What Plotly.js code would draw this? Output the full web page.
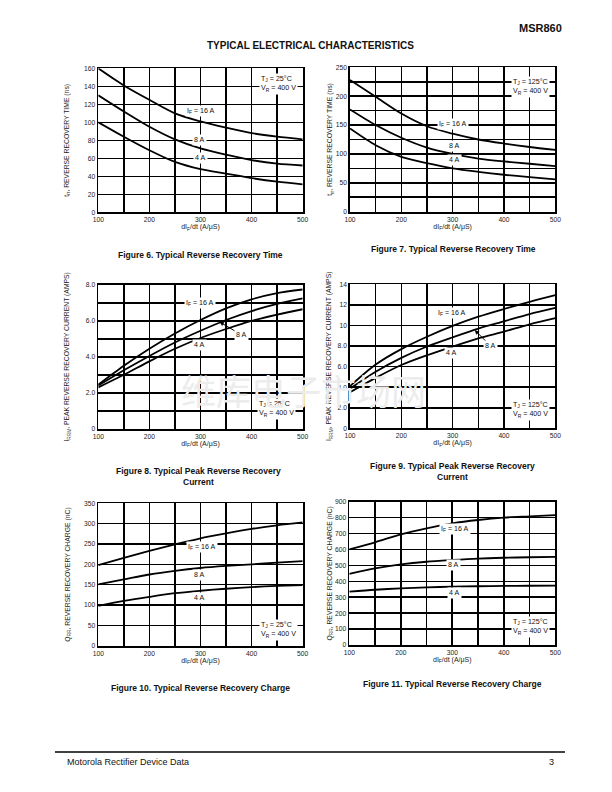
<!DOCTYPE html>
<html>
<head>
<meta charset="utf-8">
<script src="https://cdn.plot.ly/plotly-3.0.1.min.js"></script>
<style>html,body{margin:0;padding:0;background:#fff;}#chart{width:612px;height:792px;}</style>
</head>
<body>
<div id="chart"></div>
<script>
// ---- Data ----
const dIdt = [100, 150, 200, 250, 300, 350, 400, 450, 500];
const seriesNames = ["16 A", "8 A", "4 A"];

// Figure 6: trr at TJ = 25°C (ns)
const trr25_16A = [160, 141, 125, 110, 101, 94, 88, 84, 81];
const trr25_8A  = [130, 112, 95, 81, 71, 64, 58, 54, 52];
const trr25_4A  = [100, 84, 69, 56, 48, 43, 38, 34, 31];
// Figure 7: trr at TJ = 125°C (ns)
const trr125_16A = [228, 199, 170, 148, 135, 125, 118, 112, 107];
const trr125_8A  = [177, 150, 128, 111, 100, 92, 87, 83, 79];
const trr125_4A  = [144, 115, 95, 84, 75, 69, 64, 60, 56];
// Figure 8: IRRM at TJ = 25°C (A)
const irrm25_16A = [2.45, 3.5, 4.45, 5.3, 6.05, 6.7, 7.2, 7.55, 7.75];
const irrm25_8A  = [2.4, 3.25, 4.05, 4.8, 5.45, 6.05, 6.55, 6.95, 7.25];
const irrm25_4A  = [2.3, 3.0, 3.75, 4.45, 5.05, 5.55, 6.0, 6.35, 6.65];
// Figure 9: IRRM at TJ = 125°C (A)
const irrm125_16A = [4.1, 6.2, 7.7, 8.9, 9.95, 10.85, 11.6, 12.3, 12.95];
const irrm125_8A  = [3.85, 5.5, 6.85, 7.95, 8.85, 9.7, 10.4, 11.1, 11.7];
const irrm125_4A  = [3.5, 4.9, 6.15, 7.1, 7.95, 8.75, 9.4, 10.1, 10.7];
// Figure 10: QRR at TJ = 25°C (nC)
const qrr25_16A = [198, 216, 233, 249, 264, 276, 287, 296, 303];
const qrr25_8A  = [151, 163, 175, 184, 191, 196, 200, 204, 208];
const qrr25_4A  = [98, 110, 120, 129, 135, 140, 144, 147, 149];
// Figure 11: QRR at TJ = 125°C (nC)
const qrr125_16A = [600, 645, 695, 733, 764, 785, 800, 808, 816];
const qrr125_8A  = [446, 481, 506, 523, 534, 543, 548, 551, 554];
const qrr125_4A  = [335, 347, 356, 362, 366, 369, 371, 372, 373];

// Tick labels
const xTickVals = [100, 200, 300, 400, 500];
const xTickText = ["100", "200", "300", "400", "500"];
const y6TickVals = [0, 20, 40, 60, 80, 100, 120, 140, 160];
const y6TickText = ["0", "20", "40", "60", "80", "100", "120", "140", "160"];
const y7TickVals = [0, 50, 100, 150, 200, 250];
const y7TickText = ["0", "50", "100", "150", "200", "250"];
const y8TickVals = [0, 2, 4, 6, 8];
const y8TickText = ["0", "2.0", "4.0", "6.0", "8.0"];
const y9TickVals = [0, 2, 4, 6, 8, 10, 12, 14];
const y9TickText = ["0", "2.0", "4.0", "6.0", "8.0", "10", "12", "14"];
const y10TickVals = [0, 50, 100, 150, 200, 250, 300, 350];
const y10TickText = ["0", "50", "100", "150", "200", "250", "300", "350"];
const y11TickVals = [0, 100, 200, 300, 400, 500, 600, 700, 800, 900];
const y11TickText = ["0", "100", "200", "300", "400", "500", "600", "700", "800", "900"];

// ---- Layout helpers ----
const W = 612, H = 792;
const px = p => p / W;
const py = p => 1 - p / H;
const FONT = "Liberation Sans, Arial, sans-serif";
const LBL = 7.1;

const panels = [
  {ys: [trr25_16A, trr25_8A, trr25_4A], box: [98.3, 302.7, 68.3, 212.3], yr: [0, 160], ytv: y6TickVals, ytt: y6TickText, ydt: 20, ystand: 14,
   ytitle: "t<sub>rr</sub>, REVERSE RECOVERY TIME (ns)", tj: "25°C", tjpos: [452, 143],
   labels: [[300, 112, "I<sub>F</sub> = 16 A"], [298, 80, "8 A"], [300, 60, "4 A"]]},
  {ys: [trr125_16A, trr125_8A, trr125_4A], box: [350, 555.3, 67.3, 211.7], yr: [0, 250], ytv: y7TickVals, ytt: y7TickText, ydt: 25, ystand: 2,
   ytitle: "t<sub>rr</sub>, REVERSE RECOVERY TIME (ns)", tj: "125°C", tjpos: [451, 216],
   labels: [[301, 152, "I<sub>F</sub> = 16 A"], [303, 114, "8 A"], [303, 89, "4 A"]]},
  {ys: [irrm25_16A, irrm25_8A, irrm25_4A], box: [98.3, 302.7, 285, 428.7], yr: [0, 8], ytv: y8TickVals, ytt: y8TickText, ydt: 1, ystand: 15,
   ytitle: "I<sub>RRM</sub>, PEAK REVERSE RECOVERY CURRENT (AMPS)", tj: "25°C", tjpos: [449, 1.1],
   labels: [[299, 7.0, "I<sub>F</sub> = 16 A"], [299, 4.66, "4 A"]], arrow: [337, 5.95, 22, 13]},
  {ys: [irrm125_16A, irrm125_8A, irrm125_4A], box: [350, 555.3, 284.3, 428.3], yr: [0, 14], ytv: y9TickVals, ytt: y9TickText, ydt: 2, ystand: 5,
   ytitle: "I<sub>RRM</sub>, PEAK REVERSE RECOVERY CURRENT (AMPS)", tj: "125°C", tjpos: [451, 1.75],
   labels: [[298, 11.2, "I<sub>F</sub> = 16 A"], [298, 7.36, "4 A"]], arrow: [343, 9.55, 16, 16]},
  {ys: [qrr25_16A, qrr25_8A, qrr25_4A], box: [98.3, 302.7, 503.3, 645.7], yr: [0, 350], ytv: y10TickVals, ytt: y10TickText, ydt: 50, ystand: 13,
   ytitle: "Q<sub>RR</sub>, REVERSE RECOVERY CHARGE (nC)", tj: "25°C", tjpos: [452, 38],
   labels: [[302, 243, "I<sub>F</sub> = 16 A"], [299, 175, "8 A"], [299, 118, "4 A"]]},
  {ys: [qrr125_16A, qrr125_8A, qrr125_4A], box: [349.3, 555.3, 501.7, 645], yr: [0, 900], ytv: y11TickVals, ytt: y11TickText, ydt: 100, ystand: 2,
   ytitle: "Q<sub>RR</sub>, REVERSE RECOVERY CHARGE (nC)", tj: "125°C", tjpos: [451, 115],
   labels: [[305, 726, "I<sub>F</sub> = 16 A"], [303, 502, "8 A"], [305, 324, "4 A"]]}
];

const data = [];
const layout = {
  width: W, height: H,
  margin: {l: 0, r: 0, t: 0, b: 0},
  paper_bgcolor: "#fff", plot_bgcolor: "#fff",
  showlegend: false,
  font: {family: FONT, size: 6.5, color: "#111"},
  annotations: [], shapes: []
};

panels.forEach((p, i) => {
  const n = i + 1;
  const xa = "x" + (n === 1 ? "" : n), ya = "y" + (n === 1 ? "" : n);
  const xk = "xaxis" + (n === 1 ? "" : n), yk = "yaxis" + (n === 1 ? "" : n);
  p.ys.forEach((ys, k) => {
    data.push({x: dIdt, y: ys, xaxis: xa, yaxis: ya, type: "scatter", mode: "lines",
      name: seriesNames[k], line: {color: "#000", width: 1.8, shape: "spline", smoothing: 0.8},
      hoverinfo: "skip"});
  });
  const common = {
    showline: true, linecolor: "#000", linewidth: 1.8, mirror: true,
    showgrid: true, gridcolor: "#000", gridwidth: 1.6, zeroline: false,
    ticks: "", tickfont: {family: FONT, size: 6.7, color: "#222"}, fixedrange: true
  };
  layout[xk] = Object.assign({}, common, {
    domain: [px(p.box[0]), px(p.box[1])], anchor: ya, range: [100, 500],
    tickmode: "array", tickvals: xTickVals, ticktext: xTickText,
    minor: {dtick: 50, tick0: 0, showgrid: true, gridcolor: "#000", gridwidth: 1.6, ticks: ""},
    title: {text: "dI<sub>F</sub>/dt (A/μS)", font: {family: FONT, size: 7, color: "#222"}, standoff: 1}
  });
  layout[yk] = Object.assign({}, common, {
    domain: [py(p.box[3]), py(p.box[2])], anchor: xa, range: p.yr,
    tickmode: "array", tickvals: p.ytv, ticktext: p.ytt,
    minor: {dtick: p.ydt, tick0: 0, showgrid: true, gridcolor: "#000", gridwidth: 1.6, ticks: ""},
    title: {text: p.ytitle, font: {family: FONT, size: 6.8, color: "#222"}, standoff: p.ystand}
  });
  p.labels.forEach(l => {
    layout.annotations.push({xref: xa, yref: ya, x: l[0], y: l[1], text: l[2], showarrow: false,
      xanchor: "center", yanchor: "middle",
      bgcolor: "#fff", borderpad: 1, font: {family: FONT, size: LBL, color: "#111"}});
  });
  if (p.arrow) {
    layout.annotations.push({xref: xa, yref: ya, x: p.arrow[0], y: p.arrow[1], text: "8 A",
      showarrow: true, ax: p.arrow[2], ay: p.arrow[3], arrowhead: 2, arrowsize: 0.9, arrowwidth: 1,
      arrowcolor: "#000", bgcolor: "#fff", borderpad: 1, font: {family: FONT, size: LBL, color: "#111"}});
  }
  layout.annotations.push({xref: xa, yref: ya, x: p.tjpos[0], y: p.tjpos[1],
    text: "T<sub>J</sub> = " + p.tj + "<br>V<sub>R</sub> = 400 V", showarrow: false, align: "left",
    xanchor: "center", yanchor: "middle",
    bgcolor: "#fff", borderpad: 1, font: {family: FONT, size: LBL, color: "#111"}});
});

// Captions and page text
const captions = [
  [200, 255, "Figure 6. Typical Reverse Recovery Time"],
  [453, 249, "Figure 7. Typical Reverse Recovery Time"],
  [198, 476.7, "Figure 8. Typical Peak Reverse Recovery<br>Current"],
  [452, 471.3, "Figure 9. Typical Peak Reverse Recovery<br>Current"],
  [200, 688, "Figure 10. Typical Reverse Recovery Charge"],
  [452, 684, "Figure 11. Typical Reverse Recovery Charge"]
];
captions.forEach(c => layout.annotations.push({xref: "paper", yref: "paper", x: px(c[0]), y: py(c[1]),
  xanchor: "center", yanchor: "middle",
  text: "<b>" + c[2] + "</b>", showarrow: false, font: {family: FONT, size: 8.5, color: "#111"}}));

layout.annotations.push({xref: "paper", yref: "paper", x: px(564), y: py(28), xanchor: "right", yanchor: "middle",
  text: "<b>MSR860</b>", showarrow: false, font: {family: FONT, size: 11, color: "#111"}});
layout.annotations.push({xref: "paper", yref: "paper", x: px(310), y: py(46), xanchor: "center", yanchor: "middle",
  text: "<b>TYPICAL ELECTRICAL CHARACTERISTICS</b>", showarrow: false, font: {family: FONT, size: 10, color: "#111"}});
layout.annotations.push({xref: "paper", yref: "paper", x: px(65), y: py(762), xanchor: "left", yanchor: "middle",
  text: "Motorola Rectifier Device Data", showarrow: false, font: {family: FONT, size: 9, color: "#111"}});
layout.annotations.push({xref: "paper", yref: "paper", x: px(556), y: py(762), xanchor: "right", yanchor: "middle",
  text: "3", showarrow: false, font: {family: FONT, size: 9, color: "#111"}});
layout.annotations.push({xref: "paper", yref: "paper", x: px(303), y: py(389), xanchor: "center", yanchor: "middle",
  text: "维库电子市场网", showarrow: false,
  font: {family: "Noto Sans CJK SC", size: 35, color: "#ececec"}});
layout.shapes.push({type: "line", xref: "paper", yref: "paper", x0: px(55), x1: px(565), y0: py(752), y1: py(752),
  line: {color: "#000", width: 1.4}});

Plotly.newPlot("chart", data, layout, {staticPlot: true, displayModeBar: false});
</script>
</body>
</html>
